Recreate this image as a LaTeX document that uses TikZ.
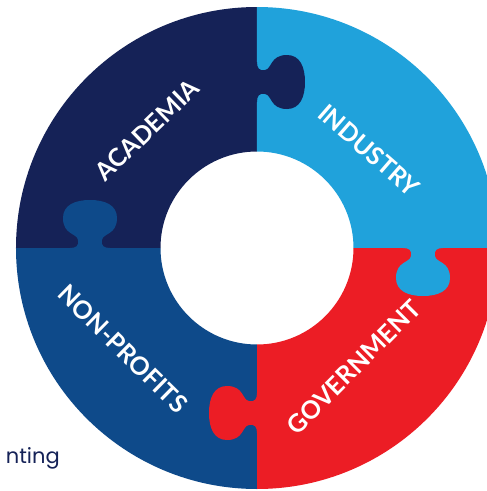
\documentclass[tikz,border=0pt]{standalone}
\usepackage{fontspec}
\setsansfont{Lato}
\newfontfamily\captionfont{Poppins}
\definecolor{navyblue}{RGB}{21,34,87}
\definecolor{skyblue}{RGB}{32,162,219}
\definecolor{puzzlered}{RGB}{236,29,37}
\definecolor{oceanblue}{RGB}{14,74,138}
\newcommand{\puzzletab}[3]{%
\fill[#1,shift={#2},rotate=#3] (20,-2) -- (20,0)
  .. controls (14,0) and (11,2) .. (12,8)
  .. controls (13,15) and (27,13) .. (27,30)
  .. controls (27,43) and (15,48) .. (0,48)
  .. controls (-15,48) and (-27,43) .. (-27,30)
  .. controls (-27,13) and (-13,15) .. (-12,8)
  .. controls (-11,2) and (-14,0) .. (-20,0) -- (-20,-2) -- cycle;}
\tikzset{piecelabel/.style={text=white,font=\sffamily\bfseries\fontsize{25}{25}\selectfont}}

\begin{document}
\begin{tikzpicture}[x=1pt,y=1pt]
\clip (-257,-243) rectangle (230,248);
\fill[navyblue] (90:241) arc (90:180:241) -- (180:96.5) arc (180:90:96.5) -- cycle;
\fill[skyblue] (0:241) arc (0:90:241) -- (90:96.5) arc (90:0:96.5) -- cycle;
\fill[puzzlered] (-90:241) arc (-90:0:241) -- (0:96.5) arc (0:-90:96.5) -- cycle;
\fill[oceanblue] (180:241) arc (180:270:241) -- (270:96.5) arc (270:180:96.5) -- cycle;
\puzzletab{navyblue}{(0,166)}{-90}
\puzzletab{oceanblue}{(-167,0)}{0}
\puzzletab{skyblue}{(166,0)}{180}
\puzzletab{puzzlered}{(0,-165)}{90}
\node[piecelabel,rotate=44] (academia) at (-110,118) {ACADEMIA};
\node[piecelabel,rotate=-41] (industry) at (112,98) {INDUSTRY};
\node[piecelabel,rotate=45] (government) at (97,-119) {GOVERNMENT};
\node[piecelabel,rotate=-44.5] (nonprofits) at (-134,-101) {NON-PROFITS};
\node[anchor=base east,inner sep=0pt,text=navyblue,font=\captionfont\fontsize{21}{21}\selectfont] (nting) at (-197,-215) {nting};
\end{tikzpicture}
\end{document}
